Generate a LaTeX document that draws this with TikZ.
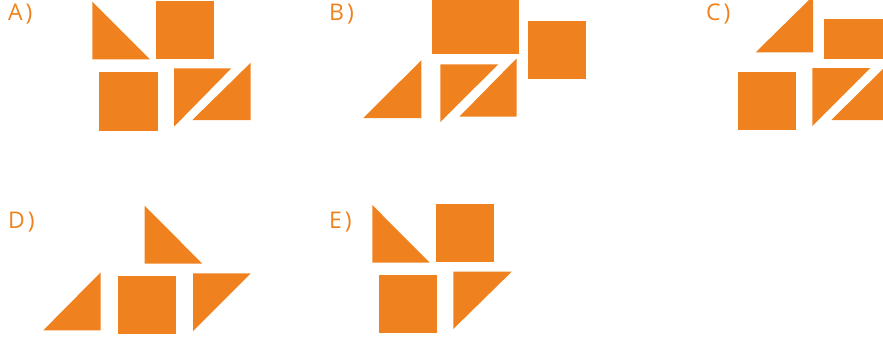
\documentclass[tikz,border=0pt]{standalone}
\usepackage{fontspec}
\setmainfont{Open Sans}
\definecolor{tang}{HTML}{EF821E}
\begin{document}
\begin{tikzpicture}[x=1pt,y=-1pt,
  piece/.style={fill=tang,draw=none},
  lbl/.style={anchor=base west,inner sep=0pt,text=tang,font=\fontsize{23}{23}\selectfont}]
\useasboundingbox (0,0) rectangle (883,340);
\begin{scope}
\clip (0,0) rectangle (883,340);
% ---------- A ----------
\node[lbl] (la) at (8,20.7) {A\kern3pt)};
\fill[piece] (92.3,1.7) -- (92.3,59.3) -- (150,59.3) -- cycle;
\fill[piece] (156,1) rectangle (213.7,58.7);
\fill[piece] (99,72) rectangle (157.7,130.7);
\fill[piece] (174,68.3) -- (231.3,68.3) -- (174,126.7) -- cycle;
\fill[piece] (250.7,62.7) -- (250.7,120) -- (192.3,120) -- cycle;
% ---------- B ----------
\node[lbl] (lb) at (329,20.7) {B\kern3pt)};
\fill[piece] (432,0) rectangle (519,54.3);
\fill[piece] (528,21) rectangle (585.7,78.7);
\fill[piece] (363.3,118) -- (421.3,118) -- (421.3,60.3) -- cycle;
\fill[piece] (440.3,64.3) -- (498.3,64.3) -- (440.3,122) -- cycle;
\fill[piece] (516.7,58.3) -- (516.7,116.7) -- (459.3,116.7) -- cycle;
% ---------- C ----------
\node[lbl] (lc) at (706,20.7) {C\kern3pt)};
\fill[piece] (755.7,52.3) -- (813,52.3) -- (813,-4) -- cycle;
\fill[piece] (824,19) rectangle (885,58.7);
\fill[piece] (738,71.7) rectangle (796,129.7);
\fill[piece] (812.3,68) -- (870.3,68) -- (812.3,126) -- cycle;
\fill[piece] (889.3,62.7) -- (889.3,120) -- (831.3,120) -- cycle;
% ---------- D ----------
\node[lbl] (ld) at (8,228) {D\kern3pt)};
\fill[piece] (144.7,205.7) -- (144.7,263.7) -- (202.3,263.7) -- cycle;
\fill[piece] (43.3,330.3) -- (100.7,330.3) -- (100.7,272.3) -- cycle;
\fill[piece] (118,276) rectangle (176,334.3);
\fill[piece] (193,273.3) -- (250.7,273.3) -- (193,331) -- cycle;
% ---------- E ----------
\node[lbl] (le) at (329,228) {E\kern3pt)};
\fill[piece] (372.3,205) -- (372.3,262.7) -- (429.7,262.7) -- cycle;
\fill[piece] (436,204) rectangle (493.7,261.7);
\fill[piece] (379,275) rectangle (437,332.7);
\fill[piece] (453.3,271.7) -- (511.7,271.7) -- (453.3,329) -- cycle;
\end{scope}
\end{tikzpicture}
\end{document}
